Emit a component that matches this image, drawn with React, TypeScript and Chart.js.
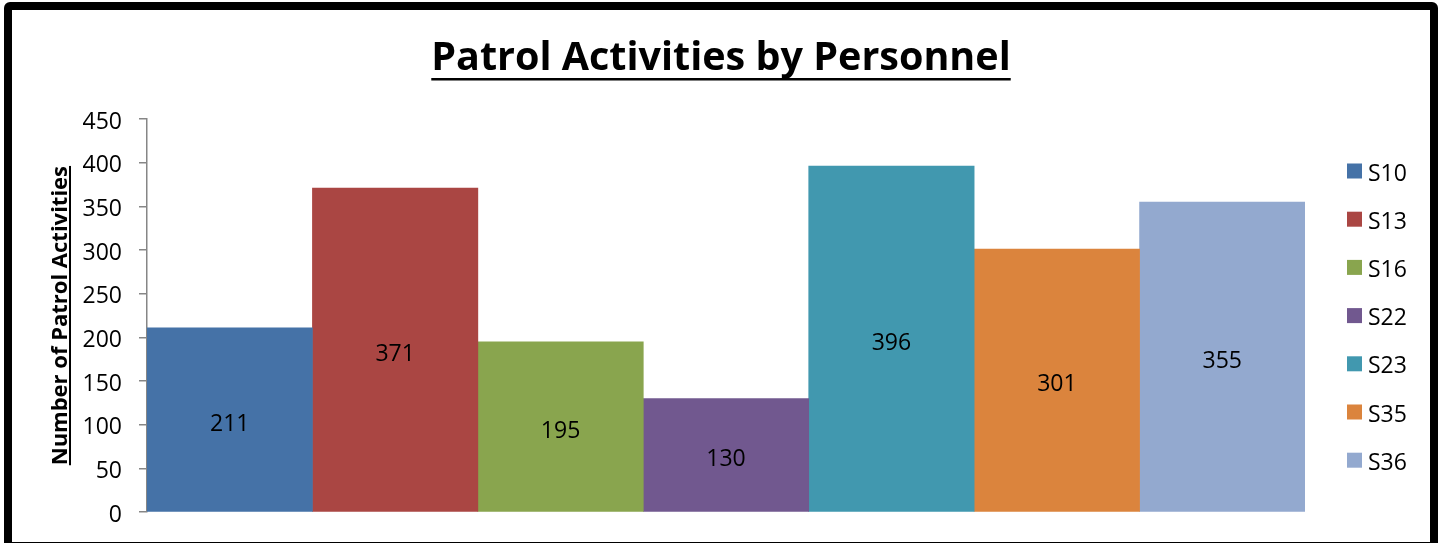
import React, { useEffect, useRef } from 'react';
import { Chart, registerables } from 'chart.js';

Chart.register(...registerables);

const categories = [''];
const seriesNames = ['S10', 'S13', 'S16', 'S22', 'S23', 'S35', 'S36'];
const seriesValues = [211, 371, 195, 130, 396, 301, 355];
const seriesColors = ['#4572A7', '#AA4643', '#89A54E', '#71588F', '#4198AF', '#DB843D', '#93A9CF'];
const yMin = 0;
const yMax = 450;
const yStep = 50;
const titleText = 'Patrol Activities by Personnel';
const yTitleText = 'Number of Patrol Activities';

const FONT = '"Open Sans", "DejaVu Sans", sans-serif';
const TEXT_SHIFT = 3;
const LABEL_SHIFT = 4.5;

const decorPlugin = {
  id: 'decor',
  afterDatasetsDraw(chart: any) {
    const ctx = chart.ctx;
    ctx.save();
    ctx.font = `23px ${FONT}`;
    ctx.fillStyle = '#000';
    ctx.textAlign = 'center';
    ctx.textBaseline = 'middle';
    chart.data.datasets.forEach((ds: any, i: number) => {
      const meta = chart.getDatasetMeta(i);
      meta.data.forEach((el: any, j: number) => {
        const v = ds.data[j];
        ctx.fillText(String(v), el.x, (el.y + el.base) / 2 + LABEL_SHIFT);
      });
    });
    ctx.restore();
  },
  afterDraw(chart: any) {
    const ctx = chart.ctx;
    const area = chart.chartArea;
    ctx.save();
    // Title
    ctx.font = `bold 39.5px ${FONT}`;
    ctx.fillStyle = '#000';
    ctx.textAlign = 'center';
    ctx.textBaseline = 'alphabetic';
    const tx = 721;
    const ty = 70;
    ctx.fillText(titleText, tx, ty);
    const tw = ctx.measureText(titleText).width;
    ctx.fillRect(tx - tw / 2, ty + 8, tw, 2.5);

    // Y-axis title
    ctx.save();
    ctx.translate(67, (area.top + area.bottom) / 2);
    ctx.rotate(-Math.PI / 2);
    ctx.font = `bold 22px ${FONT}`;
    ctx.textAlign = 'center';
    ctx.textBaseline = 'alphabetic';
    ctx.fillText(yTitleText, 0, 0);
    const yw = ctx.measureText(yTitleText).width;
    ctx.fillRect(-yw / 2, 2, yw, 2);
    ctx.restore();

    // Legend
    const cy = (area.top + area.bottom) / 2;
    ctx.font = `23px ${FONT}`;
    ctx.textAlign = 'left';
    ctx.textBaseline = 'middle';
    chart.data.datasets.forEach((ds: any, i: number) => {
      const y = cy + (i - (chart.data.datasets.length - 1) / 2) * 48.2;
      ctx.fillStyle = ds.backgroundColor;
      ctx.fillRect(1347, y - 7.5, 15, 15);
      ctx.fillStyle = '#000';
      ctx.fillText(ds.label, 1368, y + TEXT_SHIFT);
    });
    ctx.restore();
  },
};

export default function App() {
  const canvasRef = useRef<HTMLCanvasElement | null>(null);

  useEffect(() => {
    if (!canvasRef.current) return;
    const chart = new Chart(canvasRef.current, {
      type: 'bar',
      data: {
        labels: categories,
        datasets: seriesNames.map((name, i) => ({
          label: name,
          data: [seriesValues[i]],
          backgroundColor: seriesColors[i],
          borderWidth: 0,
          categoryPercentage: 1,
          barPercentage: 1,
        })),
      },
      options: {
        animation: false,
        responsive: false,
        maintainAspectRatio: false,
        layout: { padding: { top: 119, bottom: 29, left: 0, right: 135 } },
        plugins: {
          legend: { display: false },
          title: { display: false },
          tooltip: { enabled: false },
        },
        scales: {
          x: { display: false },
          y: {
            min: yMin,
            max: yMax,
            ticks: {
              stepSize: yStep,
              color: '#000',
              padding: 17,
              labelOffset: TEXT_SHIFT,
              font: { family: FONT, size: 23 },
            },
            grid: { drawOnChartArea: false, tickLength: 8, color: '#868686', lineWidth: 1.5 },
            border: { color: '#868686', width: 1.5 },
            afterFit(scale: any) {
              scale.width = 147;
            },
          },
        },
      },
      plugins: [decorPlugin],
    } as any);
    return () => chart.destroy();
  }, []);

  return (
    <div
      style={{
        position: 'fixed',
        left: 0,
        top: 0,
        width: 1440,
        height: 543,
        overflow: 'hidden',
        background: '#fff',
      }}
    >
      <canvas
        ref={canvasRef}
        width={1440}
        height={543}
        style={{ position: 'absolute', left: 0, top: 0, width: 1440, height: 543 }}
      />
      <div
        style={{
          position: 'absolute',
          left: 4,
          top: 2,
          width: 1434,
          height: 548,
          border: '8px solid #000',
          borderRadius: 6,
          boxSizing: 'border-box',
          pointerEvents: 'none',
        }}
      />
    </div>
  );
}
